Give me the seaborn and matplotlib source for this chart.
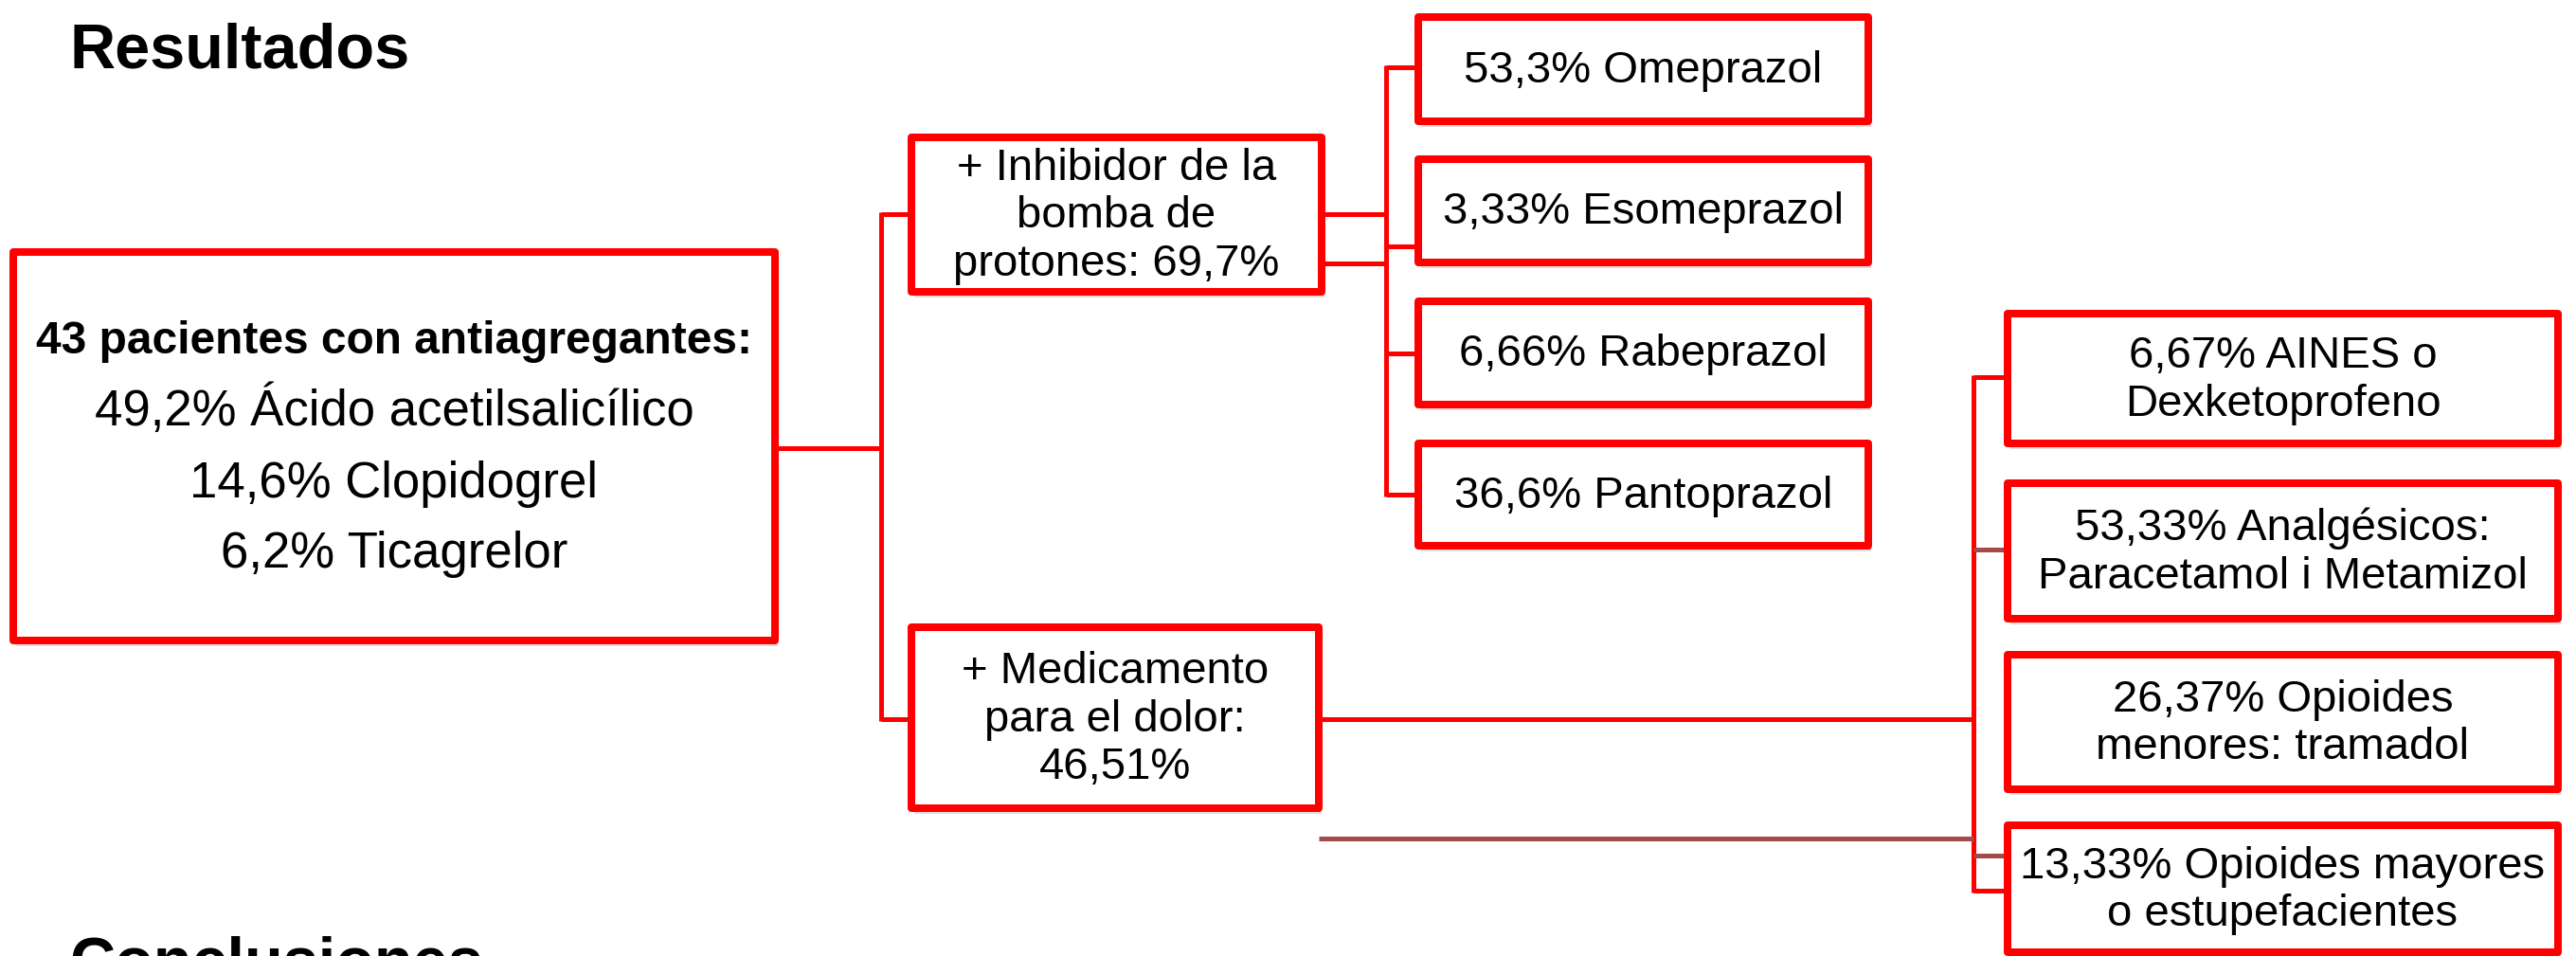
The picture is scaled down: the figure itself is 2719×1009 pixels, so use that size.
import matplotlib
matplotlib.use("Agg")
import matplotlib.pyplot as plt
from matplotlib.patches import Rectangle
import seaborn as sns

# Texts of the diagram
SECTION_TITLES = ["Resultados", "Conclusiones"]
ROOT_TITLE = "43 pacientes con antiagregantes:"
ROOT_ITEMS = ["49,2% Ácido acetilsalicílico", "14,6% Clopidogrel", "6,2% Ticagrelor"]
BRANCHES = ["+ Inhibidor de la\nbomba de\nprotones: 69,7%",
            "+ Medicamento\npara el dolor:\n46,51%"]
IBP_ITEMS = ["53,3% Omeprazol", "3,33% Esomeprazol", "6,66% Rabeprazol", "36,6% Pantoprazol"]
DOLOR_ITEMS = ["6,67% AINES o\nDexketoprofeno",
               "53,33% Analgésicos:\nParacetamol i Metamizol",
               "26,37% Opioides\nmenores: tramadol",
               "13,33% Opioides mayores\no estupefacientes"]

# Layout in pixel units (x0, x1, y0, y1), y going down
ROOT_BOX = (14, 818, 266, 676)
BRANCH_BOXES = [(962, 1395, 145, 308), (962, 1392, 662, 853)]
IBP_BOXES = [(1497, 1972, 18, 128), (1497, 1972, 168, 277),
             (1497, 1972, 318, 427), (1497, 1972, 468, 576)]
DOLOR_BOXES = [(2119, 2700, 331, 468), (2119, 2700, 510, 653),
               (2119, 2700, 691, 833), (2119, 2700, 871, 1005)]

RED = "#FF0000"
BROWN = "#A44A4A"
W, H = 2719, 1009
PX = 72 / 100  # pixel -> point

sns.set_theme(style="white")
plt.rcParams['font.family'] = ['Liberation Sans', 'DejaVu Sans']

fig = plt.figure(figsize=(W / 100, H / 100), dpi=100)
ax = fig.add_axes([0, 0, 1, 1])
ax.set_xlim(0, W)
ax.set_ylim(H, 0)
ax.axis("off")


def draw_box(b):
    x0, x1, y0, y1 = b
    ax.add_patch(Rectangle((x0 + 3, y0 + 6), x1 - x0, y1 - y0, facecolor="#c8c8c8",
                           edgecolor="none", alpha=0.6, zorder=1))
    ax.add_patch(Rectangle((x0, y0), x1 - x0, y1 - y0, facecolor="white",
                           edgecolor=RED, linewidth=8 * PX, joinstyle="round", zorder=2))


def line(xs, ys, color=RED):
    ax.plot(xs, ys, color=color, linewidth=5 * PX, solid_capstyle="butt", zorder=1.5)


# connectors
line([818, 930], [473, 473])
line([930, 930], [224, 761])
line([930, 962], [226, 226])
line([930, 962], [759, 759])

line([1395, 1463], [226, 226])
line([1395, 1463], [278, 278])
line([1463, 1463], [69, 524])
for y in [71, 260, 373, 522]:
    line([1463, 1497], [y, y])

line([1392, 2083], [759, 759])
line([2083, 2083], [396, 942])
line([2083, 2119], [398, 398])
line([2083, 2119], [580, 580], BROWN)
line([1392, 2083], [885, 885], BROWN)
line([2083, 2119], [903, 903], BROWN)
line([2083, 2119], [940, 940])

# boxes
for b in [ROOT_BOX] + BRANCH_BOXES + IBP_BOXES + DOLOR_BOXES:
    draw_box(b)

# root text
cx = (ROOT_BOX[0] + ROOT_BOX[1]) / 2
ax.text(cx, 373, ROOT_TITLE, ha="center", va="baseline", fontsize=34.5,
        fontweight="bold", color="black", zorder=3)
for item, yb in zip(ROOT_ITEMS, [449, 525, 599]):
    ax.text(cx, yb, item, ha="center", va="baseline", fontsize=38, color="black", zorder=3)


def box_text(b, s):
    x0, x1, y0, y1 = b
    ax.text((x0 + x1) / 2, (y0 + y1) / 2 + 2, s, ha="center", va="center",
            multialignment="center", fontsize=34, linespacing=1.2, color="black", zorder=3)


for b, s in zip(BRANCH_BOXES, BRANCHES):
    box_text(b, s)
for b, s in zip(IBP_BOXES, IBP_ITEMS):
    box_text(b, s)
for b, s in zip(DOLOR_BOXES, DOLOR_ITEMS):
    box_text(b, s)

# section titles
ax.text(73, 71, SECTION_TITLES[0], ha="left", va="baseline", fontsize=48,
        fontweight="bold", color="black")
ax.text(73, 1035, SECTION_TITLES[1], ha="left", va="baseline", fontsize=48,
        fontweight="bold", color="black", clip_on=False)

fig.savefig("out.png", dpi=100, facecolor="white")
